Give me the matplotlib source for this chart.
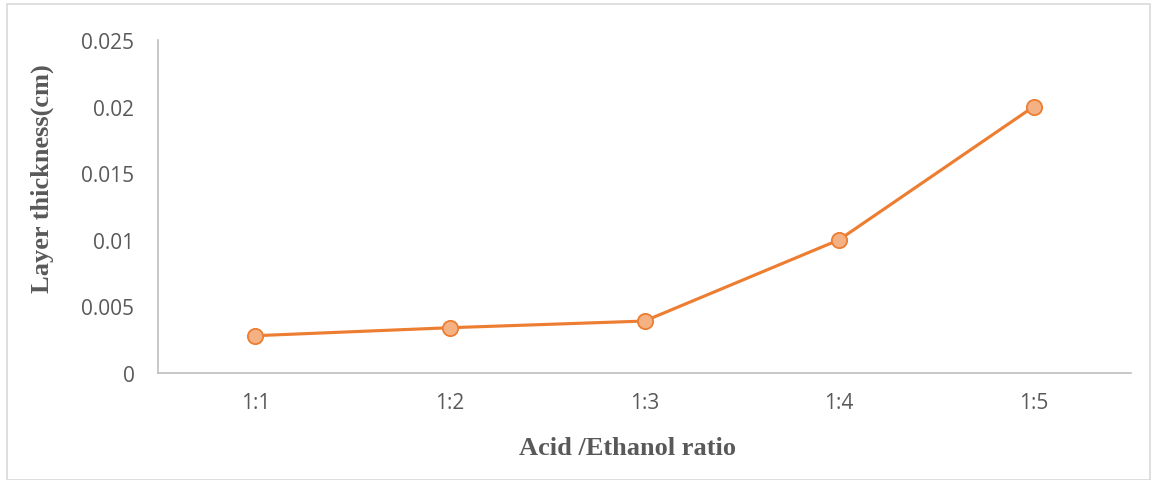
import matplotlib.pyplot as plt

ratios = ['1:1', '1:2', '1:3', '1:4', '1:5']
thickness = [0.0028, 0.0034, 0.0039, 0.01, 0.02]
y_ticks = [0, 0.005, 0.01, 0.015, 0.02, 0.025]
y_tick_labels = ['0', '0.005', '0.01', '0.015', '0.02', '0.025']

fig = plt.figure(figsize=(11.53, 4.81), dpi=100)
ax = fig.add_axes([158 / 1153, 1 - 374 / 481, (1131 - 158) / 1153, (374 - 41) / 481])

x = range(len(ratios))
ax.plot(x, thickness, color='#ED7D31', linewidth=2.25, marker='o',
        markersize=11, markerfacecolor='#F4B183', markeredgecolor='#ED7D31',
        markeredgewidth=1.3, zorder=3)

ax.set_xlim(-0.5, len(ratios) - 0.5)
ax.set_ylim(0, 0.025)
ax.set_xticks(list(x))
ax.set_xticklabels(ratios)
ax.set_yticks(y_ticks)
ax.set_yticklabels(y_tick_labels)

for side in ['top', 'right']:
    ax.spines[side].set_visible(False)
for side in ['left', 'bottom']:
    ax.spines[side].set_color('#BFBFBF')
    ax.spines[side].set_linewidth(1.2)

ax.tick_params(length=0, labelsize=15, labelcolor='#595959')
for lbl in ax.get_xticklabels() + ax.get_yticklabels():
    lbl.set_fontfamily('Open Sans')
ax.tick_params(axis='x', pad=14)
ax.tick_params(axis='y', pad=17)

ax.set_xlabel('Acid /Ethanol ratio', fontfamily='Liberation Serif', fontweight='bold',
              fontsize=19, color='#595959', va='center')
ax.set_ylabel('Layer thickness(cm)', fontfamily='Liberation Serif', fontweight='bold',
              fontsize=19, color='#595959', va='center')
ax.xaxis.set_label_coords(0.483, -0.225)
ax.yaxis.set_label_coords(-0.119, 0.586)

# thin frame around the whole chart area
border = plt.Rectangle((7 / 1153, 0), 1143 / 1153, 1 - 5 / 481, transform=fig.transFigure,
                       fill=False, edgecolor='#D9D9D9', linewidth=1.2)
fig.patches.append(border)

fig.savefig('out.png', dpi=100)
